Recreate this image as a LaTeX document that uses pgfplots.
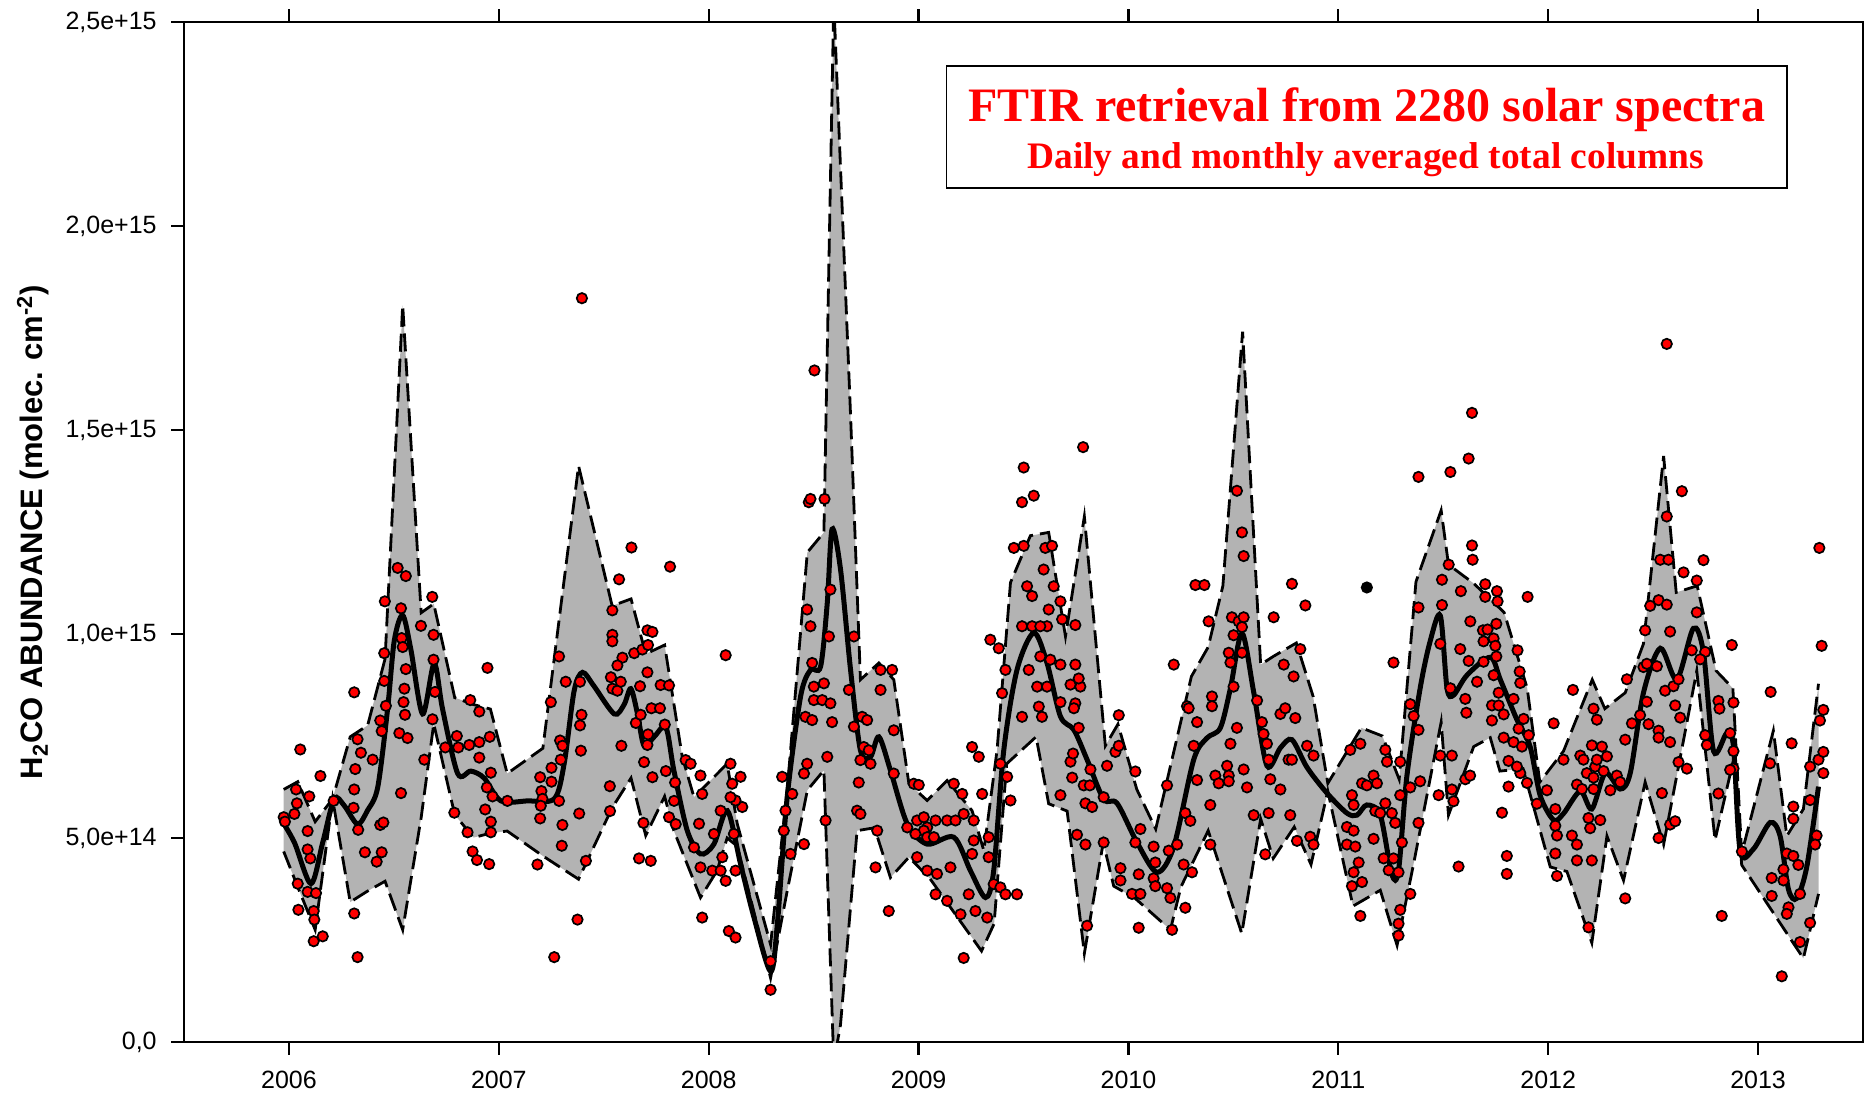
\documentclass[border=0pt]{standalone}
\usepackage{fontspec}
\setmainfont{Liberation Sans}
\newfontfamily\serifbold{Liberation Serif}
\usepackage{pgfplots}
\usepackage{pgfplotstable}
\pgfplotsset{compat=1.18}
\usepgfplotslibrary{fillbetween}
\definecolor{bandgray}{RGB}{179,179,179}
\definecolor{dotred}{RGB}{255,0,0}

\pgfplotstableread{
x y
2005.975 0.619
2006.042 0.638
2006.125 0.540
2006.208 0.596
2006.292 0.748
2006.375 0.776
2006.458 0.939
2006.542 1.806
2006.630 1.052
2006.690 1.074
2006.790 0.844
2006.880 0.827
2006.960 0.816
2007.040 0.658
2007.210 0.720
2007.380 1.412
2007.540 1.069
2007.630 1.086
2007.700 0.951
2007.790 0.973
2007.874 0.699
2007.930 0.600
2008.088 0.682
2008.136 0.535
2008.295 0.239
2008.374 0.617
2008.470 1.200
2008.549 1.249
2008.596 2.550
2008.676 1.536
2008.723 0.888
2008.811 0.929
2008.882 0.888
2008.954 0.633
2009.041 0.592
2009.136 0.641
2009.255 0.567
2009.311 0.469
2009.374 0.715
2009.438 1.126
2009.533 1.241
2009.620 1.249
2009.700 0.994
2009.790 1.288
2009.890 0.726
2009.950 0.779
2010.040 0.619
2010.130 0.522
2010.300 0.896
2010.380 0.968
2010.450 1.118
2010.544 1.741
2010.630 0.925
2010.690 0.945
2010.800 0.978
2010.880 0.847
2010.950 0.634
2011.110 0.770
2011.210 0.750
2011.290 0.644
2011.370 1.128
2011.490 1.303
2011.525 1.170
2011.645 1.124
2011.790 1.053
2011.900 0.867
2011.960 0.637
2012.073 0.713
2012.210 0.888
2012.270 0.817
2012.367 0.856
2012.454 0.976
2012.550 1.436
2012.610 1.102
2012.710 1.118
2012.800 0.910
2012.880 0.867
2012.922 0.462
2013.073 0.763
2013.137 0.505
2013.216 0.571
2013.288 0.878
}\upperband

\pgfplotstableread{
x y
2005.975 0.467
2006.042 0.380
2006.125 0.275
2006.208 0.596
2006.292 0.343
2006.375 0.370
2006.458 0.394
2006.542 0.275
2006.630 0.550
2006.690 0.780
2006.790 0.557
2006.880 0.501
2006.960 0.512
2007.040 0.517
2007.210 0.456
2007.380 0.399
2007.540 0.574
2007.630 0.647
2007.700 0.506
2007.790 0.602
2007.834 0.518
2007.961 0.354
2008.040 0.420
2008.088 0.500
2008.136 0.480
2008.295 0.157
2008.374 0.370
2008.470 0.617
2008.549 0.666
2008.596 -0.050
2008.628 0.042
2008.707 0.518
2008.790 0.525
2008.866 0.403
2008.954 0.453
2009.055 0.400
2009.300 0.223
2009.360 0.290
2009.420 0.682
2009.560 0.748
2009.620 0.584
2009.708 0.566
2009.790 0.217
2009.880 0.489
2009.930 0.382
2010.030 0.353
2010.200 0.275
2010.250 0.380
2010.380 0.518
2010.540 0.266
2010.630 0.547
2010.690 0.450
2010.790 0.527
2010.870 0.435
2010.950 0.615
2011.070 0.333
2011.200 0.372
2011.280 0.237
2011.360 0.440
2011.490 0.784
2011.525 0.556
2011.645 0.724
2011.724 0.746
2011.770 0.664
2011.880 0.670
2012.010 0.429
2012.089 0.418
2012.208 0.243
2012.280 0.505
2012.359 0.396
2012.462 0.637
2012.550 0.484
2012.708 0.910
2012.795 0.495
2012.883 0.692
2012.922 0.434
2013.216 0.205
2013.288 0.363
}\lowerband

\pgfplotstableread{
x y
2005.962 0.546
2006.026 0.489
2006.105 0.388
2006.161 0.489
2006.216 0.596
2006.264 0.579
2006.327 0.534
2006.375 0.568
2006.423 0.624
2006.470 0.816
2006.502 0.984
2006.542 1.046
2006.581 0.962
2006.637 0.804
2006.692 0.928
2006.732 0.816
2006.804 0.658
2006.867 0.664
2006.930 0.647
2007.010 0.591
2007.137 0.591
2007.264 0.596
2007.311 0.681
2007.359 0.861
2007.399 0.906
2007.454 0.872
2007.550 0.804
2007.597 0.827
2007.629 0.866
2007.661 0.804
2007.692 0.726
2007.740 0.748
2007.796 0.771
2007.834 0.666
2007.898 0.518
2007.961 0.461
2008.025 0.485
2008.089 0.567
2008.152 0.436
2008.216 0.305
2008.295 0.173
2008.327 0.288
2008.374 0.600
2008.438 0.847
2008.485 0.912
2008.533 0.920
2008.565 1.076
2008.588 1.257
2008.628 1.159
2008.676 0.912
2008.723 0.715
2008.771 0.699
2008.811 0.748
2008.866 0.666
2008.946 0.535
2009.041 0.485
2009.168 0.502
2009.247 0.420
2009.319 0.354
2009.358 0.420
2009.406 0.715
2009.469 0.912
2009.549 1.003
2009.612 0.929
2009.676 0.798
2009.740 0.765
2009.803 0.692
2009.882 0.595
2009.946 0.585
2010.041 0.489
2010.136 0.416
2010.216 0.479
2010.311 0.692
2010.374 0.745
2010.438 0.770
2010.486 0.867
2010.541 1.002
2010.597 0.857
2010.660 0.677
2010.724 0.721
2010.779 0.741
2010.851 0.673
2010.946 0.610
2011.041 0.561
2011.089 0.556
2011.136 0.581
2011.200 0.556
2011.255 0.411
2011.287 0.421
2011.327 0.653
2011.390 0.867
2011.438 0.983
2011.486 1.045
2011.518 0.867
2011.549 0.850
2011.613 0.899
2011.724 0.943
2011.772 0.888
2011.851 0.790
2011.914 0.724
2011.962 0.604
2012.026 0.544
2012.073 0.560
2012.153 0.615
2012.208 0.571
2012.272 0.659
2012.343 0.620
2012.391 0.659
2012.454 0.856
2012.534 0.965
2012.613 0.889
2012.692 1.014
2012.740 0.954
2012.788 0.713
2012.851 0.757
2012.883 0.724
2012.915 0.467
2012.978 0.473
2013.058 0.538
2013.105 0.505
2013.145 0.374
2013.184 0.352
2013.232 0.429
2013.288 0.626
}\meanline

\pgfplotstableread{
x y
2005.975 0.551
2005.981 0.540
2006.034 0.619
2006.038 0.585
2006.026 0.559
2006.054 0.717
2006.089 0.517
2006.097 0.602
2006.089 0.472
2006.102 0.450
2006.042 0.388
2006.089 0.368
2006.129 0.365
2006.045 0.324
2006.118 0.321
2006.121 0.300
2006.118 0.247
2006.161 0.259
2006.150 0.652
2006.213 0.591
2006.311 0.857
2006.327 0.742
2006.343 0.709
2006.316 0.669
2006.311 0.619
2006.308 0.574
2006.330 0.520
2006.362 0.465
2006.399 0.692
2006.435 0.532
2006.450 0.538
2006.442 0.465
2006.418 0.442
2006.311 0.315
2006.327 0.208
2006.457 1.080
2006.454 0.953
2006.454 0.885
2006.462 0.824
2006.435 0.788
2006.442 0.762
2006.526 0.757
2006.565 0.745
2006.518 1.162
2006.557 1.142
2006.534 1.063
2006.537 0.990
2006.542 0.968
2006.557 0.914
2006.550 0.866
2006.546 0.833
2006.553 0.802
2006.534 0.610
2006.645 0.692
2006.629 1.020
2006.683 1.091
2006.689 0.998
2006.689 0.937
2006.696 0.858
2006.684 0.791
2006.745 0.722
2006.800 0.750
2006.807 0.722
2006.859 0.728
2006.907 0.735
2006.907 0.697
2006.957 0.748
2006.788 0.562
2006.851 0.514
2006.864 0.838
2006.907 0.810
2006.946 0.917
2006.962 0.660
2006.943 0.624
2006.970 0.602
2006.935 0.570
2006.962 0.540
2006.962 0.514
2006.875 0.467
2006.896 0.446
2006.954 0.436
2007.041 0.591
2007.184 0.435
2007.197 0.649
2007.203 0.615
2007.208 0.596
2007.200 0.579
2007.197 0.548
2007.248 0.833
2007.251 0.672
2007.251 0.638
2007.287 0.945
2007.292 0.739
2007.303 0.726
2007.295 0.692
2007.287 0.591
2007.303 0.532
2007.300 0.481
2007.319 0.883
2007.387 0.883
2007.394 0.802
2007.387 0.776
2007.391 0.714
2007.383 0.560
2007.415 0.444
2007.375 0.300
2007.264 0.208
2007.396 1.823
2007.541 1.058
2007.541 0.998
2007.541 0.982
2007.573 1.134
2007.632 1.212
2007.589 0.942
2007.565 0.923
2007.534 0.894
2007.541 0.866
2007.565 0.861
2007.581 0.883
2007.645 0.953
2007.684 0.962
2007.708 1.009
2007.732 1.005
2007.711 0.973
2007.673 0.872
2007.708 0.906
2007.653 0.782
2007.676 0.802
2007.711 0.754
2007.708 0.728
2007.727 0.818
2007.768 0.818
2007.771 0.875
2007.811 0.874
2007.816 1.165
2007.791 0.778
2007.584 0.726
2007.529 0.627
2007.530 0.566
2007.692 0.686
2007.732 0.649
2007.796 0.664
2007.689 0.537
2007.668 0.450
2007.724 0.444
2007.811 0.551
2007.840 0.636
2007.835 0.591
2007.843 0.534
2007.890 0.691
2007.914 0.682
2007.961 0.653
2007.969 0.608
2007.954 0.535
2007.930 0.477
2007.961 0.428
2008.025 0.510
2008.017 0.420
2008.057 0.567
2008.057 0.420
2008.081 0.395
2008.065 0.453
2008.104 0.682
2008.112 0.633
2008.120 0.510
2008.128 0.420
2008.152 0.650
2008.160 0.576
2008.128 0.592
2008.104 0.600
2007.969 0.305
2008.081 0.948
2008.096 0.272
2008.128 0.256
2008.295 0.198
2008.295 0.128
2008.350 0.650
2008.358 0.518
2008.398 0.608
2008.390 0.461
2008.454 0.485
2008.366 0.567
2008.469 1.060
2008.485 1.019
2008.493 0.929
2008.501 0.871
2008.469 0.682
2008.454 0.658
2008.461 0.797
2008.493 0.789
2008.501 0.838
2008.549 0.879
2008.541 0.838
2008.580 0.830
2008.588 0.784
2008.565 0.699
2008.557 0.543
2008.477 1.323
2008.485 1.331
2008.552 1.331
2008.580 1.109
2008.573 0.994
2008.692 0.994
2008.668 0.863
2008.692 0.773
2008.731 0.797
2008.755 0.789
2008.739 0.723
2008.723 0.691
2008.763 0.715
2008.771 0.682
2008.715 0.636
2008.707 0.567
2008.723 0.559
2008.819 0.912
2008.874 0.912
2008.819 0.863
2008.803 0.518
2008.795 0.428
2008.882 0.764
2008.882 0.658
2008.858 0.321
2008.946 0.526
2008.977 0.633
2009.001 0.630
2008.993 0.543
2009.025 0.551
2009.041 0.526
2009.081 0.543
2009.025 0.518
2008.985 0.510
2009.041 0.502
2009.073 0.502
2008.993 0.453
2009.041 0.420
2009.088 0.412
2009.136 0.543
2009.168 0.633
2009.208 0.608
2009.176 0.543
2009.215 0.559
2009.263 0.543
2009.255 0.723
2009.287 0.699
2009.303 0.608
2009.263 0.494
2009.255 0.461
2009.152 0.428
2009.200 0.313
2009.271 0.321
2009.334 0.502
2009.334 0.453
2009.327 0.305
2009.215 0.206
2009.081 0.362
2009.136 0.346
2009.358 0.387
2009.390 0.379
2009.414 0.362
2009.469 0.362
2009.239 0.362
2009.390 0.682
2009.422 0.650
2009.438 0.592
2009.342 0.986
2009.382 0.965
2009.414 0.912
2009.398 0.855
2009.493 0.797
2009.501 1.216
2009.493 1.323
2009.501 1.408
2009.549 1.339
2009.517 1.117
2009.541 1.093
2009.454 1.211
2009.596 1.158
2009.604 1.211
2009.636 1.216
2009.644 1.117
2009.620 1.060
2009.612 1.019
2009.628 0.937
2009.580 0.945
2009.525 0.912
2009.565 0.871
2009.612 0.871
2009.573 0.822
2009.588 0.797
2009.493 1.019
2009.541 1.019
2009.580 1.019
2008.504 1.646
2009.784 1.458
2009.676 1.080
2009.684 1.036
2009.747 1.022
2009.676 0.925
2009.747 0.925
2009.724 0.876
2009.771 0.871
2009.763 0.891
2009.747 0.830
2009.676 0.833
2009.740 0.818
2009.763 0.770
2009.724 0.687
2009.736 0.707
2009.732 0.648
2009.787 0.629
2009.816 0.629
2009.819 0.668
2009.898 0.677
2009.795 0.585
2009.827 0.576
2009.676 0.605
2009.882 0.600
2009.755 0.508
2009.795 0.484
2009.882 0.489
2009.803 0.285
2009.938 0.711
2009.954 0.726
2009.954 0.801
2010.033 0.663
2010.057 0.522
2010.033 0.489
2009.962 0.426
2009.962 0.396
2010.049 0.411
2010.017 0.363
2010.057 0.363
2010.120 0.479
2010.128 0.440
2010.120 0.401
2010.128 0.382
2010.184 0.377
2010.200 0.353
2010.192 0.469
2010.232 0.484
2010.263 0.435
2010.303 0.416
2010.271 0.329
2010.049 0.280
2010.208 0.275
2010.184 0.629
2010.216 0.925
2010.279 0.823
2010.287 0.818
2010.327 0.784
2010.311 0.726
2010.327 0.642
2010.271 0.561
2010.295 0.542
2010.390 0.581
2010.319 1.120
2010.362 1.120
2010.382 1.031
2010.398 0.847
2010.398 0.823
2010.414 0.653
2010.430 0.634
2010.470 0.677
2010.478 0.653
2010.478 0.639
2010.478 0.954
2010.486 0.930
2010.493 1.041
2010.501 0.997
2010.525 1.031
2010.549 1.041
2010.541 1.017
2010.541 0.954
2010.517 1.351
2010.541 1.249
2010.549 1.191
2010.501 0.871
2010.517 0.770
2010.486 0.731
2010.549 0.668
2010.565 0.624
2010.390 0.484
2010.597 0.556
2010.668 0.561
2010.771 0.556
2010.613 0.837
2010.636 0.784
2010.644 0.755
2010.660 0.731
2010.668 0.692
2010.676 0.644
2010.724 0.619
2010.724 0.804
2010.747 0.818
2010.795 0.794
2010.763 0.692
2010.779 0.692
2010.740 0.925
2010.787 0.896
2010.819 0.963
2010.851 0.726
2010.882 0.702
2010.803 0.493
2010.866 0.503
2010.882 0.484
2010.652 0.460
2010.692 1.041
2010.779 1.123
2010.843 1.070
2011.057 0.716
2011.105 0.731
2011.065 0.605
2011.073 0.581
2011.041 0.527
2011.073 0.518
2011.041 0.484
2011.081 0.479
2011.097 0.440
2011.073 0.416
2011.065 0.382
2011.113 0.392
2011.105 0.309
2011.113 0.634
2011.136 0.629
2011.168 0.653
2011.184 0.634
2011.176 0.566
2011.200 0.561
2011.224 0.585
2011.255 0.561
2011.168 0.498
2011.216 0.450
2011.240 0.421
2011.271 0.537
2011.263 0.450
2011.224 0.716
2011.232 0.687
2011.295 0.687
2011.303 0.489
2011.287 0.416
2011.343 0.363
2011.295 0.324
2011.287 0.290
2011.287 0.261
2011.295 0.605
2011.343 0.624
2011.390 0.639
2011.382 0.537
2011.343 0.828
2011.359 0.799
2011.382 0.765
2011.263 0.930
2011.382 1.065
2011.382 1.385
2011.478 0.605
2011.486 0.702
2011.541 0.702
2011.541 0.619
2011.549 0.590
2011.605 0.644
2011.628 0.653
2011.534 1.397
2011.621 1.430
2011.637 1.542
2011.637 1.217
2011.640 1.182
2011.526 1.170
2011.494 1.133
2011.494 1.071
2011.584 1.105
2011.629 1.031
2011.700 1.122
2011.700 1.091
2011.756 1.105
2011.759 1.080
2011.902 1.091
2011.689 1.009
2011.711 1.011
2011.692 0.982
2011.740 0.989
2011.748 0.971
2011.753 0.945
2011.753 1.025
2011.581 0.963
2011.621 0.934
2011.661 0.883
2011.692 0.932
2011.486 0.976
2011.534 0.867
2011.605 0.841
2011.610 0.807
2011.740 0.899
2011.764 0.856
2011.732 0.825
2011.764 0.825
2011.788 0.803
2011.732 0.788
2011.854 0.960
2011.864 0.908
2011.867 0.880
2011.835 0.841
2011.859 0.768
2011.883 0.792
2011.907 0.752
2011.788 0.746
2011.835 0.735
2011.875 0.724
2011.811 0.689
2011.867 0.659
2011.899 0.635
2011.851 0.675
2011.946 0.584
2011.994 0.617
2011.780 0.562
2011.803 0.456
2011.803 0.412
2011.811 0.626
2011.573 0.430
2012.034 0.571
2012.034 0.530
2012.042 0.506
2012.034 0.462
2012.042 0.407
2012.113 0.506
2012.137 0.484
2012.137 0.445
2012.208 0.445
2012.026 0.781
2012.073 0.692
2012.118 0.863
2012.216 0.817
2012.232 0.790
2012.153 0.702
2012.168 0.692
2012.208 0.727
2012.256 0.724
2012.280 0.700
2012.224 0.675
2012.232 0.692
2012.184 0.659
2012.216 0.648
2012.264 0.664
2012.137 0.631
2012.161 0.620
2012.216 0.620
2012.296 0.617
2012.327 0.653
2012.343 0.637
2012.192 0.549
2012.200 0.524
2012.248 0.544
2012.367 0.352
2012.192 0.281
2012.367 0.741
2012.375 0.889
2012.399 0.781
2012.438 0.801
2012.478 0.779
2012.526 0.763
2012.526 0.746
2012.581 0.735
2012.454 0.919
2012.470 0.927
2012.518 0.921
2012.470 0.834
2012.557 0.861
2012.597 0.872
2012.621 0.889
2012.605 0.825
2012.629 0.795
2012.621 0.686
2012.661 0.670
2012.542 0.610
2012.581 0.533
2012.605 0.541
2012.526 0.500
2012.462 1.009
2012.486 1.069
2012.526 1.083
2012.565 1.072
2012.581 1.006
2012.534 1.182
2012.573 1.182
2012.645 1.151
2012.708 1.131
2012.740 1.181
2012.637 1.350
2012.565 1.288
2012.565 1.711
2012.708 1.053
2012.684 0.960
2012.748 0.956
2012.724 0.938
2012.748 0.752
2012.756 0.728
2012.811 0.836
2012.816 0.817
2012.883 0.832
2012.867 0.757
2012.883 0.713
2012.883 0.670
2012.867 0.667
2012.811 0.609
2012.875 0.973
2013.060 0.858
2012.923 0.467
2013.057 0.683
2013.160 0.732
2013.065 0.402
2013.065 0.358
2013.121 0.423
2013.137 0.462
2013.168 0.456
2013.192 0.434
2013.168 0.577
2013.168 0.547
2013.121 0.396
2013.145 0.330
2013.137 0.314
2013.200 0.363
2013.248 0.292
2013.200 0.245
2013.113 0.161
2012.827 0.309
2013.248 0.593
2013.248 0.675
2013.288 0.692
2013.311 0.711
2013.295 0.788
2013.311 0.814
2013.279 0.506
2013.272 0.484
2013.311 0.659
2013.303 0.971
2013.292 1.211
}\dailydata

\begin{document}
\begin{tikzpicture}
\begin{axis}[
  scale only axis,
  width=839.5pt, height=510pt,
  xmin=2005.5, xmax=2013.5,
  ymin=0, ymax=2.5,
  xtick={2006,2007,2008,2009,2010,2011,2012,2013},
  xticklabels={2006,2007,2008,2009,2010,2011,2012,2013},
  ytick={0,0.5,1,1.5,2,2.5},
  yticklabels={{0,0},{5,0e+14},{1,0e+15},{1,5e+15},{2,0e+15},{2,5e+15}},
  xtick pos=both, ytick pos=left,
  tick align=outside,
  major tick length=6.3pt,
  axis line style={line width=1.1pt},
  every tick/.style={line width=1.1pt, black},
  tick label style={font=\fontsize{12.5}{15}\selectfont},
  yticklabel style={inner sep=0pt, xshift=-7.2pt},
  xticklabel style={inner sep=0pt, yshift=-8pt},
  clip mode=individual,
]
\addplot[name path=U, draw=none, forget plot] table {\upperband};
\addplot[name path=L, draw=none, forget plot] table {\lowerband};
\addplot[bandgray, draw=none] fill between[of=U and L];
\addplot[black, line width=1.4pt, dash pattern=on 9pt off 3.5pt] table {\upperband};
\addplot[black, line width=1.4pt, dash pattern=on 9pt off 3.5pt] table {\lowerband};
\addplot[black, line width=2.5pt, smooth, tension=0.5] table {\meanline};
\addplot[only marks, mark=*, mark size=2.6pt, mark options={fill=dotred, draw=black, line width=0.85pt}] table {\dailydata};
\addplot[only marks, mark=*, mark size=2.6pt, mark options={fill=black, draw=black, line width=0.85pt}] coordinates {(2011.136,1.114)};

\draw[line width=0.9pt, fill=white] (axis cs:2009.133,2.093) rectangle (axis cs:2013.138,2.392);
\node[anchor=base, inner sep=0pt, text=dotred, font=\serifbold\bfseries\fontsize{24}{28}\selectfont] at (axis cs:2011.136,2.256) {FTIR retrieval from 2280 solar spectra};
\node[anchor=base, inner sep=0pt, text=dotred, font=\serifbold\bfseries\fontsize{18.7}{22}\selectfont] at (axis cs:2011.130,2.141) {Daily and monthly averaged total columns};
\node[rotate=90, anchor=center, inner sep=0pt, font=\bfseries\fontsize{15.5}{18}\selectfont] at (axis cs:2004.781,1.25) {H\textsubscript{2}CO ABUNDANCE (molec. cm\textsuperscript{-2})};
\end{axis}
\pgfresetboundingbox
\path (-92pt,-25.5pt) rectangle (841pt,521pt);
\end{tikzpicture}
\end{document}
